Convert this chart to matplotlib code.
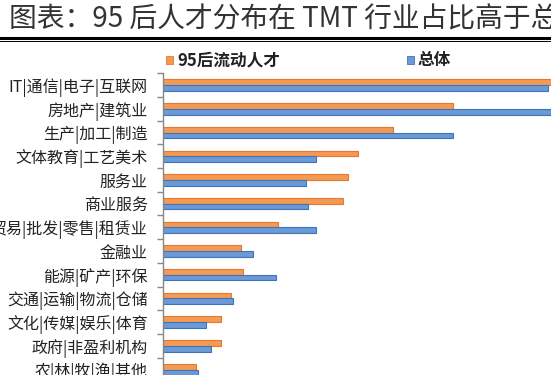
import matplotlib
matplotlib.use("Agg")
from matplotlib import pyplot as plt
from matplotlib.lines import Line2D
from matplotlib.patches import Rectangle
import numpy as np

plt.rcParams["font.family"] = ["Noto Sans CJK SC", "DejaVu Sans"]

categories = [
    "IT|通信|电子|互联网",
    "房地产|建筑业",
    "生产|加工|制造",
    "文体教育|工艺美术",
    "服务业",
    "商业服务",
    "贸易|批发|零售|租赁业",
    "金融业",
    "能源|矿产|环保",
    "交通|运输|物流|仓储",
    "文化|传媒|娱乐|体育",
    "政府|非盈利机构",
    "农|林|牧|渔|其他",
]
# share of talent by industry (%)
young = [16.0, 11.6, 9.2, 7.8, 7.4, 7.2, 4.6, 3.1, 3.2, 2.7, 2.3, 2.3, 1.3]
overall = [15.4, 16.2, 11.6, 6.1, 5.7, 5.8, 6.1, 3.6, 4.5, 2.8, 1.7, 1.9, 1.4]
legend_labels = ["95后流动人才", "总体"]
title = "图表：95 后人才分布在 TMT 行业占比高于总体"

W, H = 551, 375
fig = plt.figure(figsize=(W / 100, H / 100), dpi=100)

# axes: left spine at x=163px, top at y=73px, 23.7px per category
top_px, band_px = 73.3, 23.7
bottom_px = top_px + band_px * len(categories)
ax = fig.add_axes([163 / W, 1 - bottom_px / H, 1 - 163 / W, band_px * len(categories) / H])

orange_face, orange_edge = "#F39A55", "#E8782E"
blue_face, blue_edge = "#6B9AD6", "#3F73BA"

y = np.arange(len(categories))
h = 0.24
ax.barh(y - h / 2, young, height=h, color=orange_face, edgecolor=orange_edge, linewidth=0.8)
ax.barh(y + h / 2, overall, height=h, color=blue_face, edgecolor=blue_edge, linewidth=0.8)

ax.set_ylim(len(categories) - 0.5, -0.5)
ax.set_xlim(0, 388 / 25)
ax.set_yticks(y)
ax.set_yticklabels(categories, fontsize=11.5, color="#222222")
ax.set_yticks(np.arange(len(categories) + 1) - 0.5, minor=True)
ax.tick_params(axis="y", which="major", length=0, pad=11)
ax.tick_params(axis="y", which="minor", length=4, color="#888888", width=1)
ax.set_xticks([])
for s in ["top", "right", "bottom"]:
    ax.spines[s].set_visible(False)
ax.spines["left"].set_color("#888888")
ax.spines["left"].set_linewidth(1)

# title and rules
fig.text(9 / W, 1 - 19 / H, title, fontsize=20, va="center", ha="left", color="#333333")
fig.add_artist(Line2D([0, 1], [1 - 38 / H, 1 - 38 / H], transform=fig.transFigure, color="black", lw=2.2))
fig.add_artist(Line2D([0, 1], [1 - 41 / H, 1 - 41 / H], transform=fig.transFigure, color="black", lw=0.7))

# legend
ly = 1 - 60 / H
sq = 7
for x0, fc, ec, lab in [(166, orange_face, orange_edge, legend_labels[0]),
                        (407, blue_face, blue_edge, legend_labels[1])]:
    fig.add_artist(Rectangle((x0 / W, ly - sq / 2 / H), sq / W, sq / H, transform=fig.transFigure,
                             facecolor=fc, edgecolor=ec, lw=0.6))
    fig.text((x0 + 11) / W, ly, lab, fontsize=12, fontweight="bold", va="center", ha="left", color="#222222")

fig.savefig("out.png", dpi=100)
